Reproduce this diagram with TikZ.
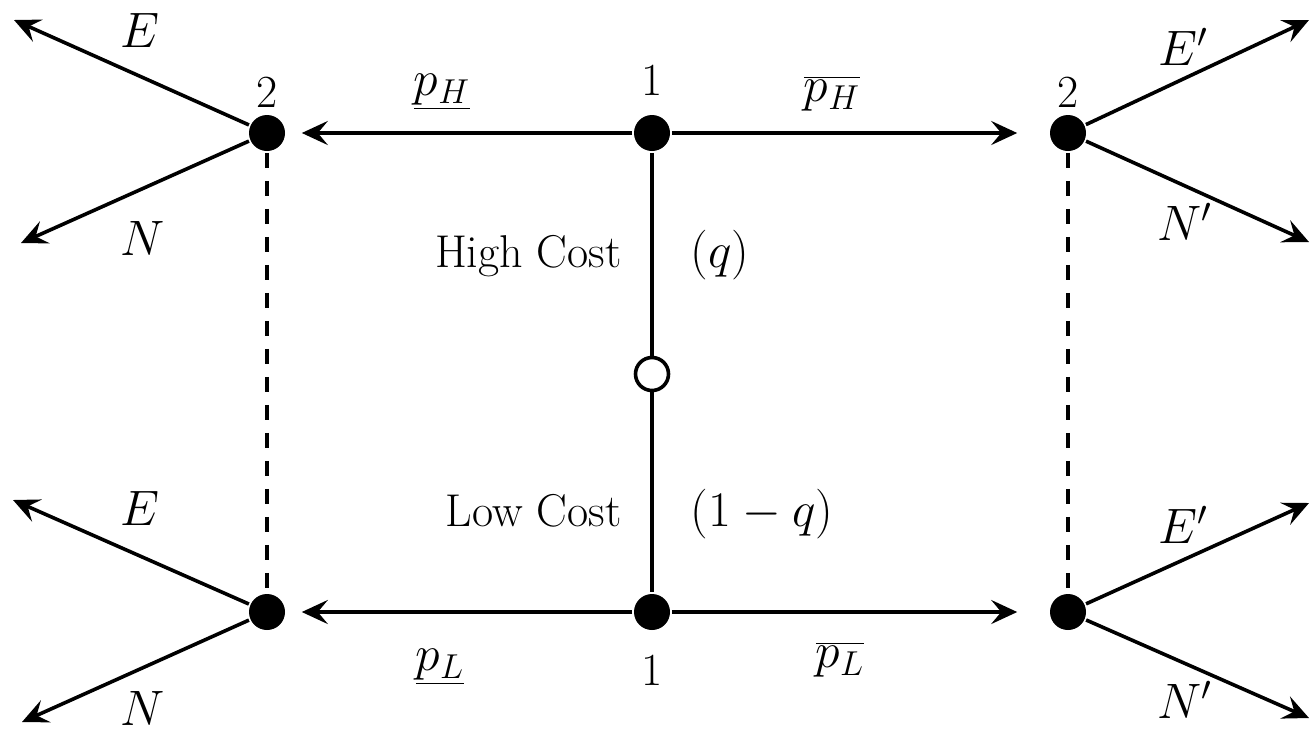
\documentclass[tikz,border=0pt]{standalone}
\usetikzlibrary{arrows.meta}

\begin{document}
\begin{tikzpicture}[x=0.5pt, y=-0.5pt, line width=1.8pt,
    font=\fontsize{23}{27}\selectfont,
    dot/.style={circle, fill=black, inner sep=0pt, minimum size=18pt},
    chance/.style={circle, draw=black, fill=white, inner sep=0pt, minimum size=16.5pt},
    move/.style={-{Stealth[length=13pt, width=12pt, inset=5pt]}},
    infoset/.style={dash pattern=on 7.5pt off 6.5pt}]
    % --- 定义坐标和参数 ---
    \def\xL{267}     % 左侧玩家 2
    \def\xC{652}     % 玩家 1
    \def\xR{1068}    % 右侧玩家 2
    \def\yH{133}     % High Cost 行
    \def\yL{612}     % Low Cost 行
    \useasboundingbox (0,0) rectangle (1310,735);

    % --- 绘制决策点 ---
    \node[chance] (nature) at (\xC, 374) {};
    \node[dot] (p1H) at (\xC, \yH) {};
    \node[dot] (p1L) at (\xC, \yL) {};
    \node[dot] (p2HL) at (\xL, \yH) {};
    \node[dot] (p2LL) at (\xL, \yL) {};
    \node[dot] (p2HR) at (\xR, \yH) {};
    \node[dot] (p2LR) at (\xR, \yL) {};

    % --- 箭头终点 ---
    \coordinate (eHL) at (14, 20);
    \coordinate (nHL) at (21, 243);
    \coordinate (eLL) at (13, 500);
    \coordinate (nLL) at (22, 722);
    \coordinate (eHR) at (1309, 20);
    \coordinate (nHR) at (1309, 242);
    \coordinate (eLR) at (1309, 503);
    \coordinate (nLR) at (1309, 718);

    % --- 自然选择 ---
    \draw (p1H) -- (nature) -- (p1L);
    \node[anchor=base east] (high) at (630, 267) {High Cost};
    \node[anchor=base] (probH) at (720, 267) {$(q)$};
    \node[anchor=base east] (low) at (630, 526) {Low Cost};
    \node[anchor=base] (probL) at (762, 526) {$(1-q)$};

    % --- 玩家 1 的价格 ---
    \draw[move, shorten >=7.5pt] (p1H) -- (p2HL);
    \draw[move, shorten >=15.5pt] (p1H) -- (p2HR);
    \draw[move, shorten >=7.5pt] (p1L) -- (p2LL);
    \draw[move, shorten >=15.5pt] (p1L) -- (p2LR);
    \node (oneH) at (\xC, 80) {1};
    \node (oneL) at (\xC, 670) {1};
    \node (pHlow) at (442, 92) {$\underline{p_H}$};
    \node (pHhigh) at (832, 94) {$\overline{p_H}$};
    \node (pLlow) at (440, 667) {$\underline{p_L}$};
    \node (pLhigh) at (840, 660) {$\overline{p_L}$};

    % --- 信息集 (虚线) ---
    \draw[infoset] (p2HL) -- (p2LL);
    \draw[infoset] (p2HR) -- (p2LR);
    \node (twoL) at (\xL, 92) {2};
    \node (twoR) at (\xR, 92) {2};

    % --- 玩家 2 的选择 ---
    \draw[move] (p2HL) -- (eHL);
    \draw[move] (p2HL) -- (nHL);
    \draw[move] (p2LL) -- (eLL);
    \draw[move] (p2LL) -- (nLL);
    \draw[move] (p2HR) -- (eHR);
    \draw[move] (p2HR) -- (nHR);
    \draw[move] (p2LR) -- (eLR);
    \draw[move] (p2LR) -- (nLR);
    \node (lblEHL) at (140, 30) {$E$};
    \node (lblNHL) at (143, 238) {$N$};
    \node (lblELL) at (140, 508) {$E$};
    \node (lblNLL) at (143, 708) {$N$};
    \node (lblEHR) at (1183, 47) {$E'$};
    \node (lblNHR) at (1185, 222) {$N'$};
    \node (lblELR) at (1183, 525) {$E'$};
    \node (lblNLR) at (1185, 700) {$N'$};

\end{tikzpicture}
\end{document}
